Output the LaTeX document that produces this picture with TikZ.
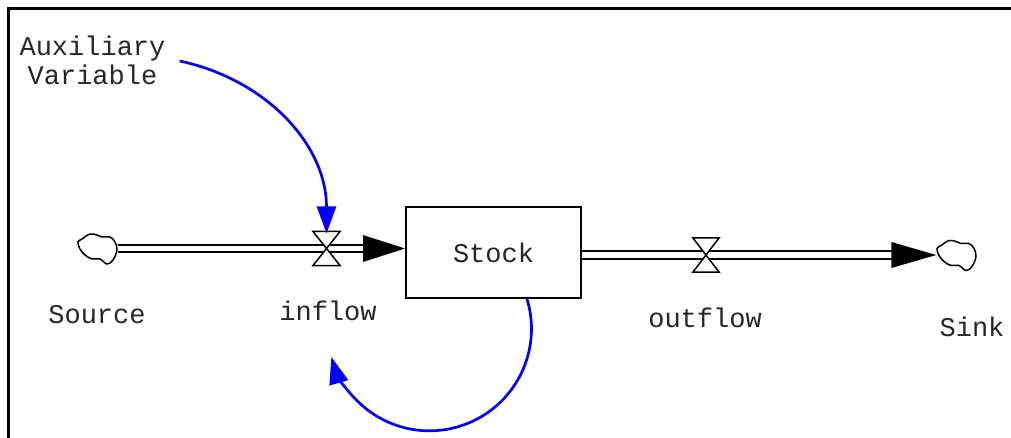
\documentclass[tikz,border=0pt]{standalone}
\usepackage{fontspec}
\setmonofont{Liberation Mono}
\usetikzlibrary{arrows.meta,calc}
\newcommand{\sdblob}[1]{%
  \draw[blobline, shift={(#1.center)}] plot[smooth cycle, tension=0.6] coordinates {
    (-15.5,9.5) (-7.5,14.5) (-0.5,13.5) (4.5,11.5) (12.5,11.5) (17.5,6.5)
    (19.5,-1.5) (15.5,-11.5) (9.5,-15.5) (2.5,-10.5) (-5.5,-10.5)
    (-12.5,-6.5) (-17.5,-0.5) (-19.5,6.5)};}
\begin{document}
\begin{tikzpicture}[x=1pt,y=1pt,
  lbl/.style={font=\fontsize{27}{29}\selectfont\ttfamily, inner sep=0pt, text=black!85},
  cloudbox/.style={inner sep=0pt, minimum width=40pt, minimum height=32pt},
  blobline/.style={draw, fill=white, line width=1.5pt},
  pipe/.style={double, double distance=5pt, line width=2pt},
  valvetri/.style={draw, fill=white, line width=1.5pt, line join=miter},
  link/.style={draw=blue, line width=2.7pt, -{Triangle[length=27pt,width=19pt]}},
  stockbox/.style={draw, line width=2pt, minimum width=175pt, minimum height=91pt, inner sep=0pt}
]
\useasboundingbox (0,0) rectangle (1011,-438);
\fill[white] (0,0) rectangle (1011,-438);
\draw[line width=3pt] (8.5,-440) -- (8.5,-9) -- (1013,-9);

% stock
\node[stockbox,lbl] (stock) at (493.5,-252.5) {Stock};

% clouds
\node[cloudbox] (src) at (97.5,-248.5) {};
\node[cloudbox] (sink) at (956.5,-255) {};

% inflow pipe
\coordinate (inTip) at (stock.west |- src.center);
\draw[pipe, shorten >=20pt] (src.east) -- (inTip);
\fill (inTip) -- ++(-42,13.5) -- ++(0,-27) -- cycle;
\coordinate (vin) at (326.5,0 |- inTip);
\draw[valvetri] ($(vin)+(-13.5,17)$) -- ($(vin)+(13.5,17)$) -- (vin) -- cycle;
\draw[valvetri] ($(vin)+(-13.5,-17)$) -- ($(vin)+(13.5,-17)$) -- (vin) -- cycle;

% outflow pipe
\coordinate (outStart) at (stock.east |- sink.west);
\draw[pipe, shorten >=20pt] (outStart) -- (sink.west);
\fill (sink.west) -- ++(-45,13) -- ++(0,-26) -- cycle;
\coordinate (vout) at (706,0 |- sink.west);
\draw[valvetri] ($(vout)+(-13,17)$) -- ($(vout)+(13,17)$) -- (vout) -- cycle;
\draw[valvetri] ($(vout)+(-13,-17)$) -- ($(vout)+(13,-17)$) -- (vout) -- cycle;

\sdblob{src}
\sdblob{sink}

% labels
\node[lbl, align=center] (aux) at (92.5,-60) {Auxiliary\\Variable};
\node[lbl] (srclbl) at (97,-315) {Source};
\node[lbl] (inlbl) at (328,-311) {inflow};
\node[lbl] (outlbl) at (705,-318) {outflow};
\node[lbl] (sinklbl) at (972,-327) {Sink};

% information links
\draw[link] ([xshift=14pt,yshift=-1pt]aux.east) to[out=-12, in=90] ($(vin)+(0,15)$);
\draw[link] ([xshift=33.5pt]stock.south) arc[start angle=17, end angle=-164, radius=102];
\end{tikzpicture}
\end{document}
